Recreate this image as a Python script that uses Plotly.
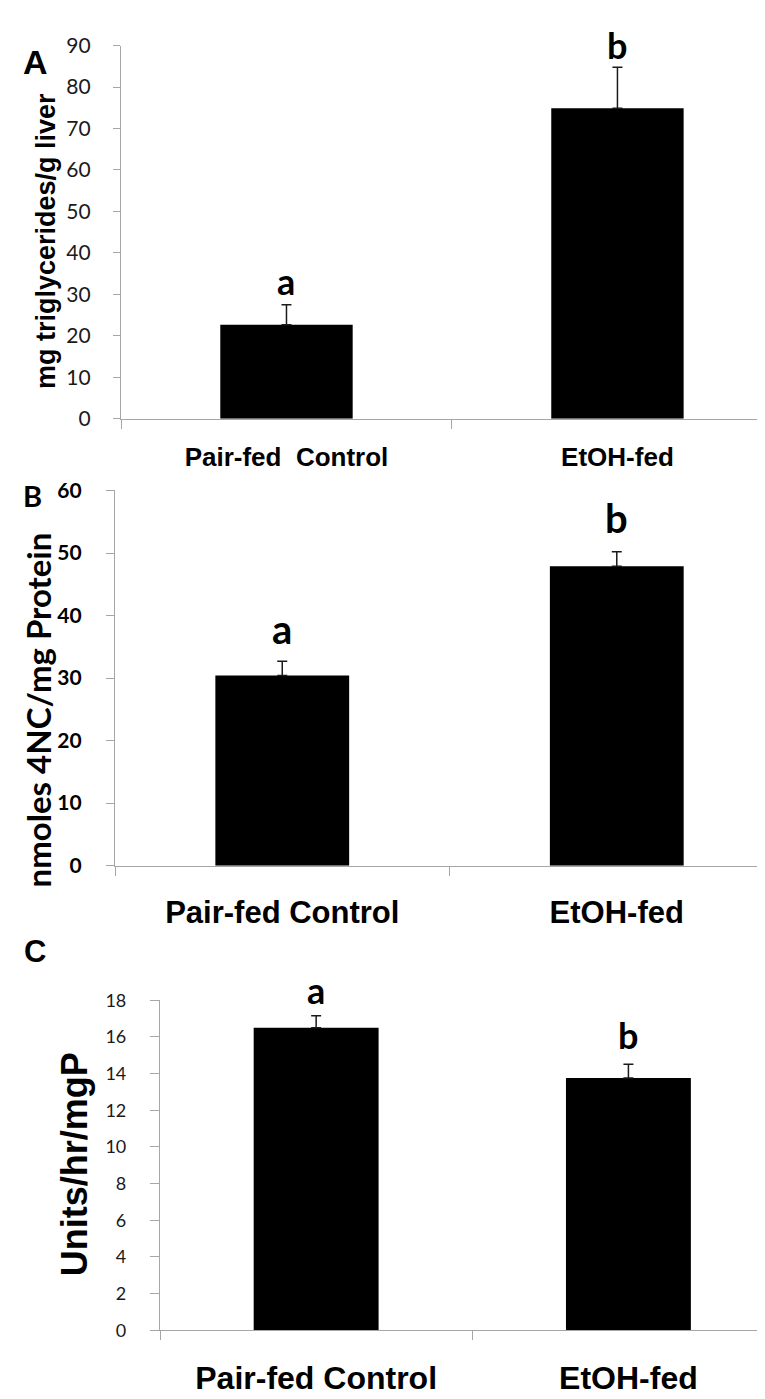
import plotly.graph_objects as go

categories = ["Pair-fed Control", "EtOH-fed"]
categories_a = ["Pair-fed  Control", "EtOH-fed"]

tg_values = [22.7, 74.9]
tg_errors = [4.8, 9.9]
tg_letters = ["a", "b"]

nc_values = [30.4, 47.9]
nc_errors = [2.3, 2.3]
nc_letters = ["a", "b"]

act_values = [16.5, 13.75]
act_errors = [0.65, 0.75]
act_letters = ["a", "b"]

W, H = 765, 1399

def py(p):
    return 1 - p / H

AX = "#a6a6a6"
SANS_B = "Liberation Sans, Arial, sans-serif"
CAL = "Lato, Carlito, Calibri, sans-serif"

fig = go.Figure()

panels = [
    dict(xa="x", ya="y", cats=categories_a, vals=tg_values, errs=tg_errors, letters=tg_letters,
         xdom=[113 / W, 1], ydom=[py(404), py(24)], yr=[0, 90], dt=10, xr=[-0.5, 1.47],
         tickfont=dict(family=CAL, size=21, color="#1a1a1a"), ystand=18, yticklen=7,
         xfont=dict(family=SANS_B, size=26, color="black", weight="bold"), xstand=15,
         lsize=36, lshift=[0, -2]),
    dict(xa="x2", ya="y2", cats=categories, vals=nc_values, errs=nc_errors, letters=nc_letters,
         xdom=[107 / W, 1], ydom=[py(859), py(477)], yr=[0, 60], dt=10, xr=[-0.5, 1.467],
         tickfont=dict(family=CAL, size=21, color="black", weight="bold"), ystand=20, yticklen=8,
         xfont=dict(family=SANS_B, size=31, color="black", weight="bold"), xstand=19,
         lsize=40, lshift=[6, 8]),
    dict(xa="x3", ya="y3", cats=categories, vals=act_values, errs=act_errors, letters=act_letters,
         xdom=[152 / W, 1], ydom=[py(1332), py(996)], yr=[0, 18], dt=2, xr=[-0.5, 1.463],
         tickfont=dict(family=CAL, size=18, color="#1a1a1a"), ystand=20, yticklen=9,
         xfont=dict(family=SANS_B, size=32, color="black", weight="bold"), xstand=19,
         lsize=36, lshift=[2, 5]),
]

for i, p in enumerate(panels):
    fig.add_trace(go.Bar(
        x=p["cats"], y=p["vals"], xaxis=p["xa"], yaxis=p["ya"],
        width=0.4, marker=dict(color="black", line=dict(width=0)),
        error_y=dict(type="data", array=p["errs"], arrayminus=[0] * len(p["errs"]),
                     symmetric=False, color="#1a1a1a", thickness=1.5, width=5),
        showlegend=False, hoverinfo="skip",
    ))
    sfx = "" if i == 0 else str(i + 1)
    fig.update_layout(**{
        "xaxis" + sfx: dict(domain=p["xdom"], anchor=p["ya"], type="category",
                            range=p["xr"], showline=True, linecolor=AX, linewidth=1.2,
                            ticks="outside", tickson="boundaries", ticklen=9, tickcolor=AX,
                            tickfont=p["xfont"], ticklabelstandoff=p["xstand"],
                            showgrid=False, zeroline=False, fixedrange=True),
        "yaxis" + sfx: dict(domain=p["ydom"], anchor=p["xa"], range=p["yr"], dtick=p["dt"],
                            tick0=0, showline=True, linecolor=AX, linewidth=1.2,
                            ticks="outside", ticklen=p["yticklen"], tickcolor=AX,
                            tickfont=p["tickfont"], ticklabelstandoff=p["ystand"],
                            showgrid=False, zeroline=False, fixedrange=True),
    })
    for c, v, e, l, s in zip(p["cats"], p["vals"], p["errs"], p["letters"], p["lshift"]):
        fig.add_annotation(x=c, y=v + e, xref=p["xa"], yref=p["ya"], text=l,
                           showarrow=False, yanchor="bottom", yshift=s,
                           font=dict(family=CAL, size=p["lsize"], color="black", weight="bold"))

# panel letters
for txt, xp, yp, fam, sz in [("A", 27, 41, SANS_B, 34), ("B", 24, 482, CAL, 29), ("C", 27, 946, SANS_B, 31)]:
    fig.add_annotation(x=xp / W, y=py(yp), xref="paper", yref="paper", text=txt,
                       showarrow=False, xanchor="center", yanchor="middle",
                       font=dict(family=fam, size=sz, color="black", weight="bold"))

# y-axis titles
for txt, xp, yp, fam, sz in [("mg triglycerides/g liver", 38, 223, SANS_B, 27),
                             ("nmoles 4NC/mg Protein", 30, 701, CAL, 33),
                             ("Units/hr/mgP", 66, 1163, SANS_B, 36)]:
    fig.add_annotation(x=xp / W, y=py(yp), xref="paper", yref="paper", text=txt,
                       textangle=-90, showarrow=False, xanchor="center", yanchor="middle",
                       font=dict(family=fam, size=sz, color="black", weight="bold"))

fig.update_layout(width=W, height=H, margin=dict(l=0, r=0, t=0, b=0),
                  paper_bgcolor="white", plot_bgcolor="white", bargap=0.6)

fig.write_html("out.html")
